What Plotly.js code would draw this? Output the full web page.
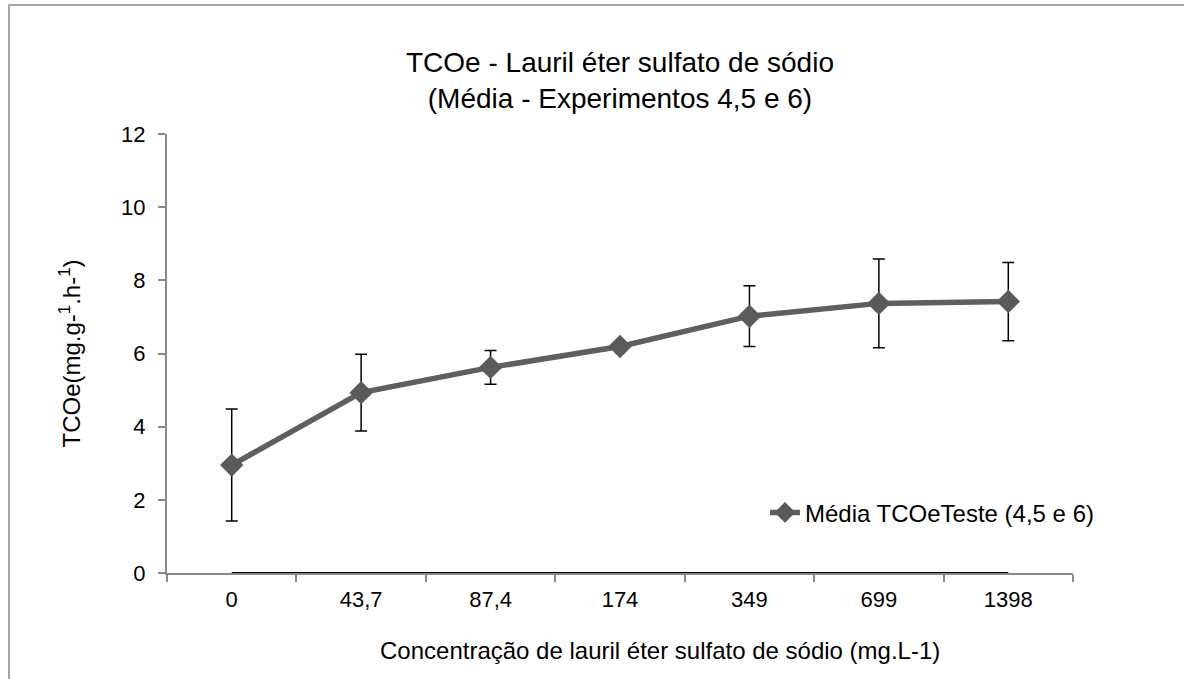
<!DOCTYPE html>
<html>
<head>
<meta charset="utf-8">
<script src="https://cdn.plot.ly/plotly-3.0.1.min.js"></script>
<style>
  html, body { margin: 0; padding: 0; background: #fff; }
  #grafico { width: 1184px; height: 679px; }
</style>
</head>
<body>
<div id="grafico"></div>
<script>
// Concentrações (categorias do eixo x)
const concentracoes = ['0', '43,7', '87,4', '174', '349', '699', '1398'];
// Média TCOe dos experimentos 4, 5 e 6
const mediaTCOe = [2.95, 4.93, 5.62, 6.19, 7.02, 7.37, 7.42];
// Desvio (barras de erro)
const desvio = [1.53, 1.05, 0.46, 0.0, 0.83, 1.21, 1.07];
// Série auxiliar em zero (linha preta sobre o eixo)
const linhaZero = [0, 0, 0, 0, 0, 0, 0];

const fonte = 'Liberation Sans, Arial, sans-serif';

const traceZero = {
    x: concentracoes,
    y: linhaZero,
    type: 'scatter',
    mode: 'lines',
    line: { color: '#000000', width: 2 },
    showlegend: false,
    hoverinfo: 'skip'
};

const traceMedia = {
    x: concentracoes,
    y: mediaTCOe,
    type: 'scatter',
    mode: 'lines+markers',
    name: 'Média TCOeTeste (4,5 e 6)',
    line: { color: '#5f5f5f', width: 5.5 },
    marker: { symbol: 'diamond', size: 18, color: '#5a5a5a' },
    error_y: {
        type: 'data',
        array: desvio,
        visible: true,
        color: '#000000',
        thickness: 1.5,
        width: 6
    }
};

const layout = {
    width: 1184,
    height: 679,
    margin: { l: 167, r: 111, t: 134, b: 106 },
    paper_bgcolor: '#ffffff',
    plot_bgcolor: '#ffffff',
    font: { family: fonte, size: 22, color: '#000000' },
    title: {
        text: 'TCOe - Lauril éter sulfato de sódio<br>(Média - Experimentos 4,5 e 6)',
        font: { family: fonte, size: 28, color: '#000000' },
        x: 0.5,
        xref: 'paper',
        y: 1 - 72 / 679,
        yanchor: 'top'
    },
    xaxis: {
        type: 'category',
        range: [-0.5, 6.5],
        showline: true,
        linecolor: '#888888',
        linewidth: 2,
        ticks: 'outside',
        tickson: 'boundaries',
        ticklen: 7,
        tickcolor: '#888888',
        tickwidth: 2,
        ticklabelstandoff: 6,
        showgrid: false,
        zeroline: false,
        tickfont: { family: fonte, size: 22, color: '#000000' }
    },
    yaxis: {
        range: [0, 12],
        dtick: 2,
        showline: true,
        linecolor: '#888888',
        linewidth: 2,
        ticks: 'outside',
        ticklen: 7,
        tickcolor: '#888888',
        tickwidth: 2,
        ticklabelstandoff: 8,
        showgrid: false,
        zeroline: false,
        tickfont: { family: fonte, size: 22, color: '#000000' },
        title: {
            text: 'TCOe(mg.g-<sup>1</sup>.h-<sup>1</sup>)',
            font: { family: fonte, size: 24, color: '#000000' },
            standoff: 34
        }
    },
    annotations: [
        {
            text: 'Concentração de lauril éter sulfato de sódio (mg.L-1)',
            xref: 'paper',
            yref: 'paper',
            x: (660 - 167) / 906,
            y: (573 - 650) / 439,
            xanchor: 'center',
            yanchor: 'middle',
            showarrow: false,
            font: { family: fonte, size: 24, color: '#000000' }
        }
    ],
    legend: {
        x: 0.66,
        y: 0.137,
        xanchor: 'left',
        yanchor: 'middle',
        bgcolor: 'rgba(0,0,0,0)',
        font: { family: fonte, size: 24, color: '#000000' }
    },
    shapes: [
        {
            type: 'rect',
            xref: 'paper',
            yref: 'paper',
            x0: (9 - 167) / 906,
            x1: 1.3,
            y0: -0.4,
            y1: (573 - 5) / 439,
            line: { color: '#a6a6a6', width: 2 }
        }
    ],
    hovermode: 'closest'
};

Plotly.newPlot('grafico', [traceZero, traceMedia], layout, { displayModeBar: false });
</script>
</body>
</html>
